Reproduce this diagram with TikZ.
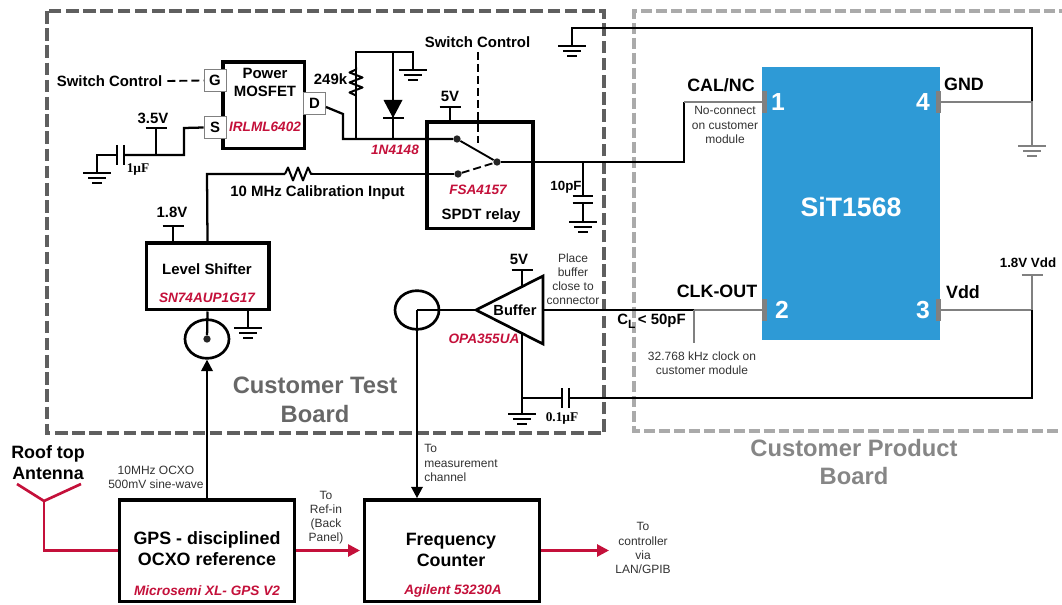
\documentclass[tikz,border=0pt]{standalone}
\usepackage{fontspec}
\setmainfont{Liberation Sans}
\newfontfamily\capfont{Liberation Serif}
\usepackage{xcolor}
\usepackage{tikz}
\usetikzlibrary{positioning,calc,arrows.meta,shapes.geometric}
\definecolor{partred}{RGB}{196,16,58}
\definecolor{testgray}{RGB}{95,95,95}
\definecolor{prodgray}{RGB}{170,170,170}
\definecolor{wiregray}{RGB}{128,128,128}
\definecolor{chipblue}{RGB}{46,154,214}
\definecolor{notegray}{RGB}{50,50,50}

\begin{document}
\begin{tikzpicture}[
					x=0.75pt, y=-0.75pt,
					wire/.style={line width=1.7pt, black},
					wire_gray/.style={line width=1.7pt, wiregray},
					wire_red/.style={line width=2pt, partred},
					ctl_dash/.style={line width=1.4pt, black, dash pattern=on 6pt off 3pt},
					arrow_black/.style={wire, -{Triangle[length=8.5pt,width=8.5pt]}},
					arrow_red/.style={wire_red, -{Triangle[length=9pt,width=9pt]}},
					box/.style={
						draw=black, fill=white,
						line width=2.5pt,
						inner sep=0pt
					},
					pinbox/.style={
						draw=gray, fill=white,
						line width=0.7pt,
						inner sep=0pt,
						minimum width=16.5pt, minimum height=17pt,
						font=\fontsize{11.2}{13}\selectfont\bfseries
					},
					lbl/.style={inner sep=0pt, font=\fontsize{11.2}{13.5}\selectfont\bfseries},
					lbl_big/.style={inner sep=0pt, align=center, font=\fontsize{13.4}{15.7}\selectfont\bfseries},
					part/.style={inner sep=0pt, text=partred, font=\fontsize{10.2}{12}\selectfont\bfseries\itshape},
					note/.style={inner sep=0pt, align=center, text=notegray, font=\fontsize{9}{10.6}\selectfont},
					capval/.style={inner sep=0pt, font=\fontsize{10}{12}\selectfont\capfont\bfseries},
					boardtxt/.style={inner sep=0pt, align=center, font=\fontsize{17.8}{21.5}\selectfont\bfseries},
					contact/.style={circle, fill=black!85, inner sep=0pt, minimum size=5.5pt},
					conn/.style={ellipse, draw=black, line width=2pt, inner sep=0pt, minimum width=33pt, minimum height=29pt},
					gnd/.pic={
						\coordinate (-top) at (0,0);
						\draw[line width=1.7pt, pic actions] (-14,0) -- (14,0) (-9,5) -- (9,5) (-5,10) -- (5,10);
					},
					rail/.pic={
						\coordinate (-bot) at (0,0);
						\draw[line width=1.7pt, pic actions] (-10.5,0) -- (10.5,0);
					},
					res/.pic={
						\coordinate (-a) at (-14,0);
						\coordinate (-b) at (14,0);
						\draw[line width=1.5pt, line join=round] (-14,0) -- (-11,-6.5) -- (-6,6.5) -- (-1,-6.5) -- (4,6.5) -- (9,-6.5) -- (12,0) -- (14,0);
					}
					]
					\useasboundingbox (0,0) rectangle (1062,605);
					
					% ================= BOARDS =================
					\draw[testgray, line width=3.4pt, dash pattern=on 9.4pt off 3.5pt] (47,11) rectangle (604,433);
					\draw[prodgray, line width=2.8pt, dash pattern=on 8.2pt off 3pt] (1070,11) -- (634,11) -- (634,431) -- (1070,431);
					\node[boardtxt, text=testgray!95] (test_lbl) at (315,400) {Customer Test\\Board};
					\node[boardtxt, text=wiregray!95!white] (prod_lbl) at (854,462) {Customer Product\\Board};
					
					% ================= CHIP =================
					\node[fill=chipblue, inner sep=0pt, minimum width=133.5pt, minimum height=205pt] (chip) at (851,203.5) {};
					\node[inner sep=0pt, text=white, font=\fontsize{20}{24}\selectfont\bfseries] (chip_lbl) at (851,207) {SiT1568};
					\foreach \n/\xp/\yp/\xn in {1/764.5/102/778, 2/764.5/310/782, 3/938.5/310/923, 4/938.5/102/923} {
						\node[fill=wiregray, inner sep=0pt, minimum width=4pt, minimum height=17pt] (pin\n) at (\xp,\yp) {};
						\node[inner sep=0pt, text=white, font=\fontsize{18.5}{22}\selectfont\bfseries] (num\n) at (\xn,\yp) {\n};
					}
					\node[lbl_big] (cal_lbl) at (721,85) {CAL/NC};
					\node[lbl_big] (gnd_lbl) at (964,84) {GND};
					\node[lbl_big] (clk_lbl) at (717,291) {CLK-OUT};
					\node[lbl_big] (vdd_lbl) at (963,292) {Vdd};
					\node[note] (nc_lbl) at (725,125) {No-connect\\on customer\\module};
					\node[note] (khz_lbl) at (702,363.5) {32.768 kHz clock on\\customer module};
					\node[inner sep=0pt, font=\fontsize{10}{12}\selectfont\bfseries] (vsup_lbl) at (1028,263) {1.8V Vdd};
					
					% ================= GND / VDD RIGHT SIDE =================
					\coordinate (top_node) at (1032,28);
					\coordinate (gnd_node) at (1032,102);
					\coordinate (vdd_node) at (1032,310);
					\pic (g_top) at (572,46) {gnd};
					\pic[wiregray] (g_right) at (1032,146) {gnd};
					\pic[wiregray] (r_vdd) at (1032,275) {rail};
					\draw[wire] (g_top-top) |- (top_node) -- (gnd_node);
					\draw[wire_gray] (pin4.east) -- (gnd_node) -- (g_right-top);
					\draw[wire_gray] (pin3.east) -- (vdd_node) -- (r_vdd-bot);
					
					% ================= MOSFET =================
					\node[box, minimum width=61pt, minimum height=65pt] (fet) at (263.5,105.5) {};
					\node[pinbox] (pin_g) at (215,80.5) {G};
					\node[pinbox] (pin_s) at (215,127.5) {S};
					\node[pinbox] (pin_d) at (314.5,103.5) {D};
					\node[lbl, align=center] (fet_lbl) at (265,82) {Power\\MOSFET};
					\node[part] (fet_part) at (265,127) {IRLML6402};
					\node[lbl] (sw1_lbl) at (109.5,81) {Switch Control};
					\draw[ctl_dash] (sw1_lbl.east) ++(5,0) -- (pin_g.west);
					
					% 3.5V + 1uF
					\node[lbl] (v35_lbl) at (153,118) {3.5V};
					\pic (r_35) at (156,128) {rail};
					\coordinate (j_35) at (156,155);
					\coordinate (cap1_r) at (124,155);
					\coordinate (cap1_l) at (117,155);
					\pic (g_cap1) at (97,173) {gnd};
					\draw[wire] (r_35-bot) -- (j_35);
					\draw[wire] (cap1_r) -- (j_35) -- (184,155) -- (184,128) -- (pin_s.west);
					\draw[wire] (cap1_l) -- (97,155) -- (g_cap1-top);
					\draw[wire] (cap1_l) ++(0,-10) -- ++(0,20);
					\draw[wire] (cap1_r) ++(0,-10) -- ++(0,20);
					\node[capval] (cap1_lbl) at (138,170) {1µF};
					
					% ================= DIODE + R =================
					\coordinate (d_out) at (326,107);
					\coordinate (j_r) at (356,139);
					\coordinate (j_d) at (393,139);
					\coordinate (top_r) at (356,52);
					\coordinate (top_d) at (393,52);
					\pic[rotate=90] (r249) at (356,81.5) {res};
					\pic (g_d) at (413,70) {gnd};
					\node[lbl] (r249_lbl) at (330.5,79) {249k};
					\draw[wire] (j_r) -- (r249-b);
					\draw[wire] (r249-a) -- (top_r) -- (top_d) -- (413,52) -- (g_d-top);
					\draw[wire] (top_d) -- (j_d);
					\fill[black] (383.5,100) -- (402.5,100) -- (393,118) -- cycle;
					\draw[wire] (383,118) -- (404,118);
					\node[part] (diode_part) at (395,150) {1N4148};
					
					% ================= RELAY =================
					\node[box, minimum width=79.5pt, minimum height=80pt] (relay) at (480,175.5) {};
					\node[contact] (c_a) at (457,139) {};
					\node[contact] (c_b) at (458,174) {};
					\node[contact] (c_com) at (497,162) {};
					\node[part] (relay_part) at (478,190) {FSA4157};
					\node[lbl] (relay_lbl) at (481,216) {SPDT relay};
					\node[lbl] (v5a_lbl) at (450,96) {5V};
					\pic (r_5a) at (450,107) {rail};
					\node[lbl] (sw2_lbl) at (477.5,42) {Switch Control};
					\draw[wire] (r_5a-bot) -- (relay.north -| r_5a-bot);
					\draw[wire] (d_out) -- (343,114) -- (343,139) -- (c_a);
					\draw[line width=1.4pt, black] (c_a) -- (c_com);
					\draw[ctl_dash] (c_b) -- (c_com);
					\coordinate (sw2_end) at (478,143);
					\draw[ctl_dash] (478,52) -- (sw2_end);
					
					% 10pF + link to CAL/NC
					\coordinate (j_10p) at (583,162);
					\coordinate (corner_nc) at (684,102);
					\pic (g_10p) at (583,222) {gnd};
					\node[inner sep=0pt, font=\fontsize{10}{12}\selectfont\bfseries] (cap2_lbl) at (566,187) {10pF};
					\draw[wire] (c_com) -- (j_10p) -| (corner_nc);
					\draw[wire_gray] (corner_nc) -- (pin1.west);
					\draw[wire] (j_10p) -- (583,196);
					\draw[wire] (583,203) -- (g_10p-top);
					\draw[wire] (572.5,196) -- (592.5,196);
					\draw[wire] (572.5,203) -- (592.5,203);
					
					% ================= LEVEL SHIFTER =================
					\node[box, minimum width=92pt, minimum height=50pt] (shifter) at (207.5,276.5) {};
					\node[inner sep=0pt, font=\fontsize{11.2}{13}\selectfont\bfseries] (shifter_lbl) at (207,269) {Level Shifter};
					\node[part] (shifter_part) at (207,298) {SN74AUP1G17};
					\node[lbl] (v18_lbl) at (172,212) {1.8V};
					\pic (r_18) at (173,226) {rail};
					\pic (g_shift) at (248,328) {gnd};
					\pic (r_cal) at (299,174) {res};
					\node[lbl] (cal_in_lbl) at (317.5,193) {10 MHz Calibration Input};
					\draw[wire] (r_18-bot) -- (r_18-bot |- shifter.north);
					\draw[wire] (c_b) -- (r_cal-b);
					\draw[wire] (r_cal-a) -- (207,174) -- (shifter.north);
					\draw[wire] (g_shift-top |- shifter.south) -- (g_shift-top);
					\node[conn] (conn1) at (207,339) {};
					\node[circle, fill=black!85, inner sep=0pt, minimum size=5.5pt] (conn1_dot) at (207,339) {};
					\draw[wire] (shifter.south) -- (conn1_dot);
					
					% ================= BUFFER =================
					\coordinate (buf_in) at (476,310);
					\coordinate (buf_out) at (543,310);
					\coordinate (buf_top) at (522,287);
					\coordinate (buf_bot) at (522,333);
					\draw[line width=2pt, black] (buf_in) -- (543,276) -- (543,344) -- cycle;
					\node[inner sep=0pt, font=\fontsize{11}{13}\selectfont\bfseries] (buf_lbl) at (515,310) {Buffer};
					\node[part] (buf_part) at (484,339) {OPA355UA};
					\node[lbl] (v5b_lbl) at (519,259) {5V};
					\pic (r_5b) at (522,270) {rail};
					\pic (g_buf) at (522,414) {gnd};
					\node[note] (place_lbl) at (573,279) {Place\\buffer\\close to\\connector};
					\draw[wire] (r_5b-bot) -- (buf_top);
					\draw[wire] (buf_bot) -- (g_buf-top);
					
					% output + load
					\coordinate (clk_node) at (694,310);
					\coordinate (load_end) at (694,343);
					\node[lbl] (cl_lbl) at (651.5,321) {C\raisebox{-3pt}{\fontsize{9}{9}\selectfont L}\,< 50pF};
					\draw[wire] (buf_out) -- (clk_node);
					\draw[wire_gray] (clk_node) -- (pin2.west);
					\draw[wire_gray] (clk_node) -- (load_end);
					
					% 0.1uF to Vdd
					\coordinate (j_buf) at (522,398);
					\coordinate (cap3_l) at (562,398);
					\coordinate (cap3_r) at (569,398);
					\coordinate (corner_vdd) at (1032,398);
					\node[capval] (cap3_lbl) at (562,418) {0.1µF};
					\draw[wire] (j_buf) -- (cap3_l);
					\draw[wire] (cap3_r) -- (corner_vdd) -- (vdd_node);
					\draw[wire] (cap3_l) ++(0,-10) -- ++(0,20);
					\draw[wire] (cap3_r) ++(0,-10) -- ++(0,20);
					
					% ================= BOTTOM BLOCKS =================
					\node[box, minimum width=131.5pt, minimum height=76pt] (gps) at (207,550.5) {};
					\node[lbl_big] (gps_lbl) at (207,549) {GPS - disciplined\\OCXO reference};
					\node[part] (gps_part) at (207,591) {Microsemi XL- GPS V2};
					\node[box, minimum width=131.5pt, minimum height=76pt] (cnt) at (452,550.5) {};
					\node[lbl_big] (cnt_lbl) at (451,550) {Frequency\\Counter};
					\node[part] (cnt_part) at (453,591) {Agilent 53230A};
					
					\node[conn] (conn2) at (417,310) {};
					\draw[wire] (buf_in) -- (conn2.center);
					\draw[arrow_black] (conn2.center) -- (conn2.center |- cnt.north);
					\draw[arrow_black] (conn1.south |- gps.north) -- (conn1.south);
					
					% antenna + red links
					\coordinate (ant_l) at (17,484);
					\coordinate (ant_r) at (81,484);
					\coordinate (ant_j) at (44,501);
					\coordinate (ctrl_end) at (609,550.5);
					\node[lbl_big] (ant_lbl) at (48,462.5) {Roof top\\Antenna};
					\draw[wire_red] (ant_l) -- (ant_j) -- (ant_r);
					\draw[wire_red] (ant_j) |- (gps.west);
					\draw[arrow_red, shorten >=2pt] (gps.east) -- (cnt.west);
					\draw[arrow_red] (cnt.east) -- (ctrl_end);
					
					\node[note] (ocxo_lbl) at (156,477) {10MHz OCXO\\500mV sine-wave};
					\node[note] (ref_lbl) at (326,517.5) {To\\Ref-in\\(Back\\Panel)};
					\node[note, align=left, anchor=west] (meas_lbl) at (424,463) {To\\measurement\\channel};
					\node[note] (ctrl_lbl) at (643,548) {To\\controller\\via\\LAN/GPIB};
					
				\end{tikzpicture}
\end{document}
